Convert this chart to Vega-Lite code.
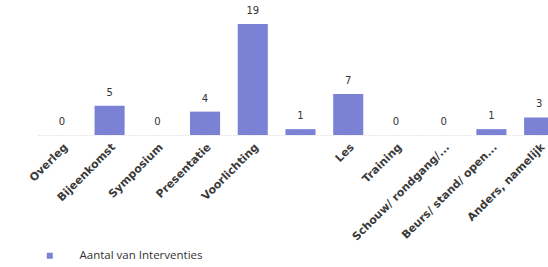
{
  "$schema": "https://vega.github.io/schema/vega-lite/v6.json",
  "autosize": {"type": "none"},
  "width": 525,
  "height": 111,
  "padding": {"left": 38, "top": 24, "right": 0, "bottom": 132},
  "background": "white",
  "config": {"view": {"stroke": null}, "font": "Open Sans"},
  "data": {
    "values": [
      {"categorie": "Overleg", "aantal": 0},
      {"categorie": "Bijeenkomst", "aantal": 5},
      {"categorie": "Symposium", "aantal": 0},
      {"categorie": "Presentatie", "aantal": 4},
      {"categorie": "Voorlichting", "aantal": 19},
      {"categorie": " ", "aantal": 1},
      {"categorie": "Les", "aantal": 7},
      {"categorie": "Training", "aantal": 0},
      {"categorie": "Schouw/ rondgang/...", "aantal": 0},
      {"categorie": "Beurs/ stand/ open...", "aantal": 1},
      {"categorie": "Anders, namelijk", "aantal": 3}
    ]
  },
  "encoding": {
    "x": {
      "field": "categorie",
      "type": "nominal",
      "sort": null,
      "scale": {"paddingInner": 0.37, "paddingOuter": 0.185},
      "axis": {
        "title": null,
        "labelAngle": -45,
        "labelFont": "DejaVu Sans",
        "labelFontWeight": "bold",
        "labelFontSize": 11,
        "labelColor": "#3a3a3a",
        "labelPadding": 6,
        "ticks": false,
        "domainColor": "#d0d0d0",
        "domainDash": [1, 2],
        "domainWidth": 1
      }
    },
    "y": {
      "field": "aantal",
      "type": "quantitative",
      "scale": {"domain": [0, 19], "nice": false},
      "axis": null
    }
  },
  "layer": [
    {
      "mark": {"type": "bar"},
      "encoding": {
        "color": {
          "datum": "Aantal van Interventies",
          "type": "nominal",
          "scale": {"range": ["#7b82d6"]},
          "legend": {
            "title": null,
            "orient": "none",
            "legendX": 6,
            "legendY": 226,
            "symbolType": "square",
            "symbolSize": 36,
            "symbolStrokeWidth": 0,
            "labelOffset": 24,
            "labelFont": "Open Sans",
            "labelFontSize": 11.5,
            "labelColor": "#333333"
          }
        }
      }
    },
    {
      "mark": {"type": "text", "baseline": "middle", "dy": -13, "fontSize": 10, "color": "#333333", "font": "DejaVu Sans"},
      "encoding": {"text": {"field": "aantal", "type": "quantitative"}}
    }
  ]
}
